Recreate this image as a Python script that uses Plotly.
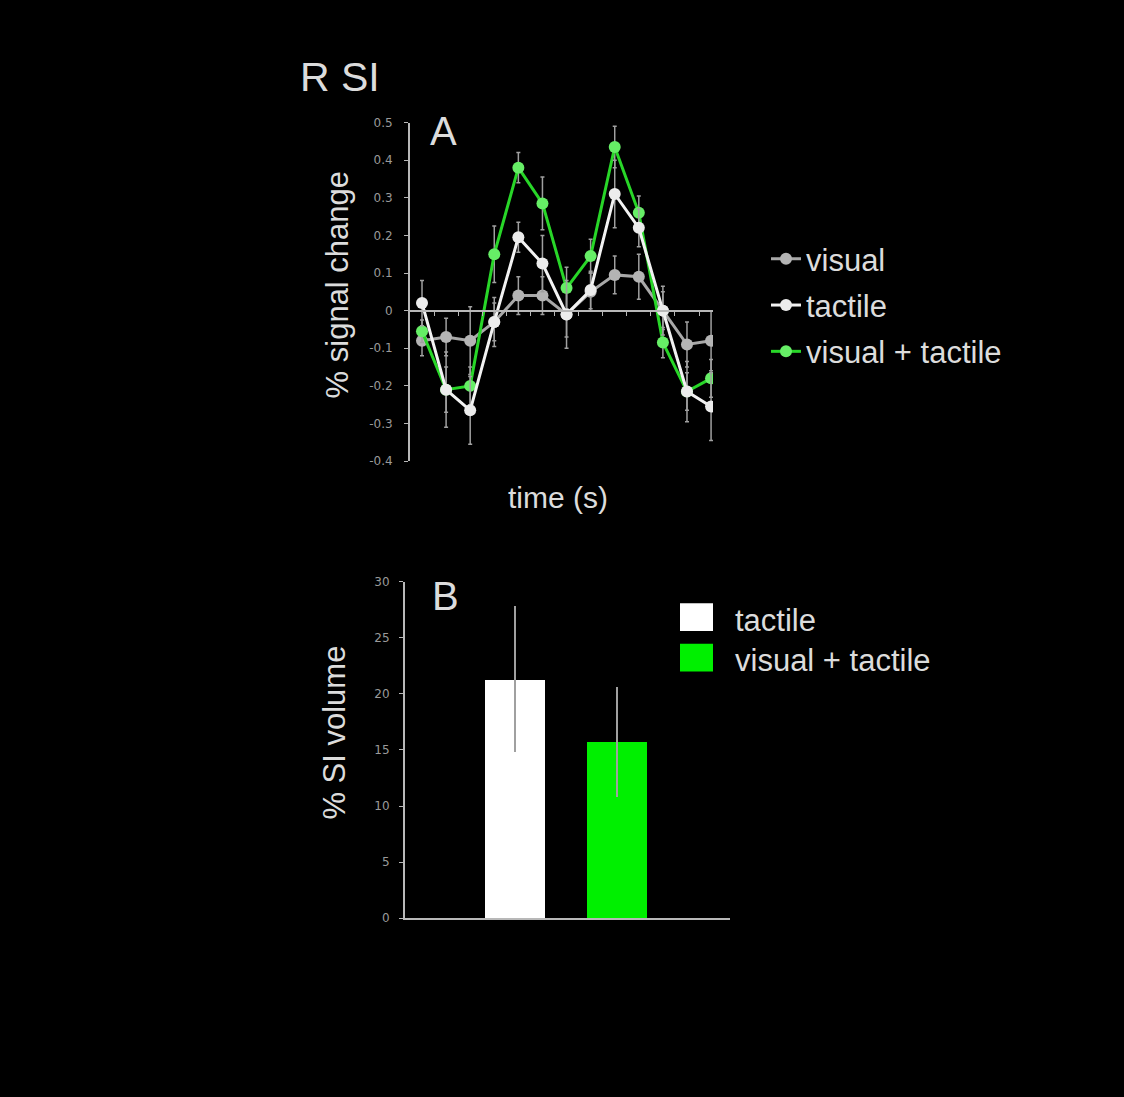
import plotly.graph_objects as go

# ---------------- data ----------------
time_points = list(range(1, 14))

visual = [-0.08, -0.07, -0.08, -0.03, 0.04, 0.04, -0.01, 0.05, 0.095, 0.09, 0.0, -0.09, -0.08]
visual_err = [0.04, 0.05, 0.09, 0.05, 0.05, 0.05, 0.06, 0.05, 0.05, 0.06, 0.05, 0.06, 0.08]

tactile = [0.02, -0.21, -0.265, -0.03, 0.195, 0.125, -0.01, 0.055, 0.31, 0.22, 0.0, -0.215, -0.255]
tactile_err = [0.06, 0.10, 0.09, 0.065, 0.04, 0.075, 0.09, 0.05, 0.09, 0.05, 0.065, 0.08, 0.09]

vis_tac = [-0.055, -0.21, -0.20, 0.15, 0.38, 0.285, 0.06, 0.145, 0.435, 0.26, -0.085, -0.215, -0.18]
vis_tac_err = [0.03, 0.06, 0.05, 0.075, 0.04, 0.07, 0.055, 0.045, 0.055, 0.045, 0.04, 0.05, 0.05]

bar_conditions = ["tactile", "visual + tactile"]
bar_values = [21.3, 15.7]
bar_errors = [6.5, 4.9]

y_ticks_a = [-0.4, -0.3, -0.2, -0.1, 0, 0.1, 0.2, 0.3, 0.4, 0.5]
y_tick_labels_a = ["-0.4", "-0.3", "-0.2", "-0.1", "0", "0.1", "0.2", "0.3", "0.4", "0.5"]
y_ticks_b = [0, 5, 10, 15, 20, 25, 30]

# ---------------- styles ----------------
W, H = 1124, 1097
FONT = "Liberation Sans, Arial, sans-serif"
TICKFONT = dict(family="DejaVu Sans, sans-serif", size=12, color="#9a9a9a")
AXIS_COLOR = "#b8b8b8"
TEXT_COLOR = "#dcdcdc"

GRAY = "#a8a8a8"
WHITE = "#f2f2f2"
GREEN = "#28d628"
BAR_GREEN = "#00f000"


def px_x(p):
    return p / W


def px_y(p):
    return 1 - p / H


fig = go.Figure()

series = [
    ("visual", visual, visual_err, GRAY, "#b4b4b4", 1),
    ("visual + tactile", vis_tac, vis_tac_err, GREEN, "#66ee66", 3),
    ("tactile", tactile, tactile_err, WHITE, "#ececec", 2),
]
for name, vals, errs, lc, mc, rank in series:
    fig.add_trace(go.Scatter(
        x=time_points, y=vals, name=name, mode="lines+markers",
        line=dict(color=lc, width=3),
        marker=dict(color=mc, size=12, line=dict(width=0)),
        error_y=dict(type="data", array=errs, visible=True, color="#a0a0a0",
                     thickness=1.5, width=2),
        xaxis="x", yaxis="y", legend="legend", legendrank=rank,
        legendgroup=name,
    ))

fig.add_trace(go.Bar(
    x=[0, 1], y=bar_values, name="bars",
    marker=dict(color=["#ffffff", BAR_GREEN], line=dict(width=0)),
    width=0.585,
    error_y=dict(type="data", array=bar_errors, visible=True,
                 color="#a0a0a0", thickness=2, width=0),
    customdata=bar_conditions,
    hovertemplate="%{customdata}: %{y}<extra></extra>",
    xaxis="x2", yaxis="y2", showlegend=False,
))

# panel geometry (pixels)
a_left, a_right, a_top, a_bottom = 409, 713, 117, 460
b_left, b_right, b_top, b_bottom = 405, 730, 582, 923
a_ymin, a_ymax = -0.4, 0.5
zero_pos = px_y(a_bottom) + (0 - a_ymin) / (a_ymax - a_ymin) * (px_y(a_top) - px_y(a_bottom))

fig.update_layout(
    width=W, height=H,
    paper_bgcolor="black", plot_bgcolor="black",
    margin=dict(l=0, r=0, t=0, b=0),
    font=dict(family=FONT, color=TEXT_COLOR),
    bargap=0,
    xaxis=dict(
        domain=[px_x(a_left), px_x(a_right)],
        range=[0.46, 13.08],
        anchor="free", position=zero_pos,
        showgrid=False, zeroline=False,
        showline=True, linecolor=AXIS_COLOR, linewidth=2,
        tickmode="array", tickvals=[i + 0.5 for i in range(1, 13)],
        ticks="outside", ticklen=4, tickcolor=AXIS_COLOR, tickwidth=1,
        showticklabels=False,
    ),
    yaxis=dict(
        domain=[px_y(a_bottom), px_y(a_top)],
        range=[a_ymin, a_ymax],
        anchor="free", position=px_x(a_left),
        showgrid=False, zeroline=False,
        showline=True, linecolor=AXIS_COLOR, linewidth=2,
        tickmode="array", tickvals=y_ticks_a, ticktext=y_tick_labels_a,
        ticks="outside", ticklen=4, tickcolor=AXIS_COLOR, tickwidth=1,
        tickfont=TICKFONT, ticklabelstandoff=9,
    ),
    xaxis2=dict(
        domain=[px_x(b_left), px_x(b_right)],
        range=[-1.073, 2.098],
        anchor="y2",
        showgrid=False, zeroline=False,
        showline=True, linecolor=AXIS_COLOR, linewidth=2,
        ticks="", showticklabels=False,
    ),
    yaxis2=dict(
        domain=[px_y(b_bottom), px_y(b_top)],
        range=[0, 30],
        anchor="x2",
        showgrid=False, zeroline=False,
        showline=True, linecolor=AXIS_COLOR, linewidth=2,
        tickmode="array", tickvals=y_ticks_b,
        ticks="outside", ticklen=4, tickcolor=AXIS_COLOR, tickwidth=1,
        tickfont=TICKFONT, ticklabelstandoff=7,
    ),
    legend=dict(
        x=px_x(766), y=px_y(228), xanchor="left", yanchor="top",
        font=dict(family=FONT, size=31, color=TEXT_COLOR),
        bgcolor="rgba(0,0,0,0)", traceorder="grouped", tracegroupgap=3,
        itemclick=False, itemdoubleclick=False,
    ),
    showlegend=True,
)

# legend for panel B (swatches + labels)
swatch_colors = ["#ffffff", BAR_GREEN]
swatch_centers = [618, 659]
for cond, col, cy in zip(bar_conditions, swatch_colors, swatch_centers):
    fig.add_shape(type="rect", xref="paper", yref="paper",
                  x0=px_x(680), x1=px_x(713), y0=px_y(cy + 14), y1=px_y(cy - 14),
                  fillcolor=col, line=dict(width=0))
    fig.add_annotation(text=cond, xref="paper", yref="paper",
                       x=px_x(733), y=px_y(cy + 3), xanchor="left", yanchor="middle",
                       showarrow=False, font=dict(size=31, color=TEXT_COLOR))

texts = [
    ("R SI", 298, 71, 41, 0, "left"),
    ("A", 428, 126, 40, 0, "left"),
    ("B", 430, 597, 40, 0, "left"),
    ("time (s)", 558, 497, 30, 0, "center"),
    ("% signal change", 337, 281, 31, -90, "center"),
    ("% SI volume", 335, 735, 31, -90, "center"),
]
for t, x, y, s, ang, xa in texts:
    fig.add_annotation(text=t, xref="paper", yref="paper", x=px_x(x), y=px_y(y),
                       xanchor=xa, yanchor="middle", textangle=ang, showarrow=False,
                       font=dict(size=s, color=TEXT_COLOR))

fig.write_html("out.html", config={"displayModeBar": False},
               post_script="document.body.style.margin='0';document.body.style.background='black';")
